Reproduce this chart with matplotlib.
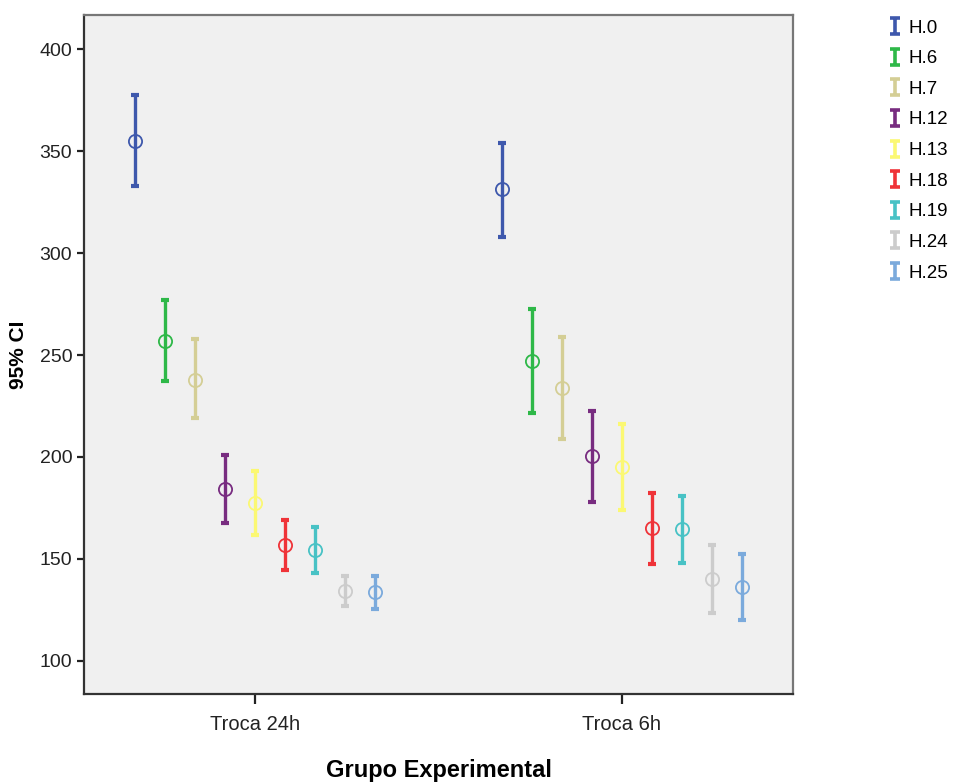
import numpy as np
import matplotlib
matplotlib.use('Agg')
import matplotlib.pyplot as plt
from matplotlib.path import Path
from matplotlib.lines import Line2D

plt.rcParams['font.family'] = ['Liberation Sans Narrow', 'Liberation Sans', 'DejaVu Sans']

# data (mean and 95% CI bounds)
groups = ['Troca 24h', 'Troca 6h']
series = ['H.0', 'H.6', 'H.7', 'H.12', 'H.13', 'H.18', 'H.19', 'H.24', 'H.25']
colors = ['#3E58AC', '#2EB848', '#D4CE95', '#782C80', '#FBF873',
          '#EF3338', '#48C2C5', '#CCCCCC', '#7BAADC']

mean_24h = [355.0, 257.0, 237.8, 184.5, 177.3, 156.7, 154.4, 134.3, 133.7]
low_24h = [332.8, 237.3, 219.3, 167.5, 161.8, 144.3, 143.3, 127.0, 125.6]
high_24h = [377.5, 277.0, 257.7, 201.1, 193.0, 169.1, 165.8, 141.7, 141.7]

mean_6h = [331.2, 247.2, 233.7, 200.5, 194.9, 165.0, 164.6, 140.0, 136.4]
low_6h = [308.0, 221.4, 208.8, 178.1, 174.0, 147.5, 147.9, 123.4, 120.1]
high_6h = [354.1, 272.7, 258.7, 222.7, 216.2, 182.2, 180.9, 156.9, 152.5]

means = np.array([mean_24h, mean_6h])
lows = np.array([low_24h, low_6h])
highs = np.array([high_24h, high_6h])

fig = plt.figure(figsize=(9.54, 7.82), dpi=100)
ax = fig.add_axes([84 / 954, 88 / 782, (793 - 84) / 954, (694 - 15) / 782])
ax.set_facecolor('#F0F0F0')

step = 0.082
offsets = (np.arange(len(series)) - 4) * step
centers = np.arange(len(groups))

for i, name in enumerate(series):
    xs = centers + offsets[i]
    m = means[:, i]
    err = np.vstack([m - lows[:, i], highs[:, i] - m])
    ax.errorbar(xs, m, yerr=err, fmt='none', ecolor=colors[i],
                elinewidth=2.4, capsize=3, capthick=3, zorder=2)
    ax.plot(xs, m, 'o', mfc='none', mec=colors[i], ms=9.5, mew=1.3, zorder=3)

ax.set_xlim(-0.466, 1.466)
ax.set_ylim(83.7, 416.8)
ax.set_xticks(centers)
ax.set_xticklabels(groups)
ax.set_yticks([100, 150, 200, 250, 300, 350, 400])
ax.tick_params(axis='both', direction='out', labelsize=14, colors='#222222',
               width=1.6, length=5)
ax.tick_params(axis='x', length=7, pad=8, labelsize=14.5)

for side in ['left', 'bottom']:
    ax.spines[side].set_color('#333333')
    ax.spines[side].set_linewidth(1.6)
for side in ['top', 'right']:
    ax.spines[side].set_color('#777777')
    ax.spines[side].set_linewidth(1.6)

ax.set_ylabel('95% CI', fontsize=15, fontweight='bold', family=['Liberation Sans', 'DejaVu Sans'],
              labelpad=8)
ax.set_xlabel('Grupo Experimental', fontsize=17, fontweight='bold',
              family=['Liberation Sans', 'DejaVu Sans'], labelpad=18)

# I-shaped legend markers
ibeam = Path([(-0.6, 1), (0.6, 1), (0, 1), (0, -1), (-0.6, -1), (0.6, -1)],
             [Path.MOVETO, Path.LINETO, Path.MOVETO, Path.LINETO, Path.MOVETO, Path.LINETO])
handles = [Line2D([], [], linestyle='none', marker=ibeam, markersize=11,
                  markeredgewidth=2.6, markeredgecolor=c, markerfacecolor='none')
           for c in colors]
fig.legend(handles, series, loc='upper left', bbox_to_anchor=(880 / 954, 1 - 12 / 782),
           frameon=False, fontsize=13.5, handlelength=0.8, handletextpad=0.3,
           labelspacing=0.72, borderaxespad=0)

fig.savefig('out.png', dpi=100)
